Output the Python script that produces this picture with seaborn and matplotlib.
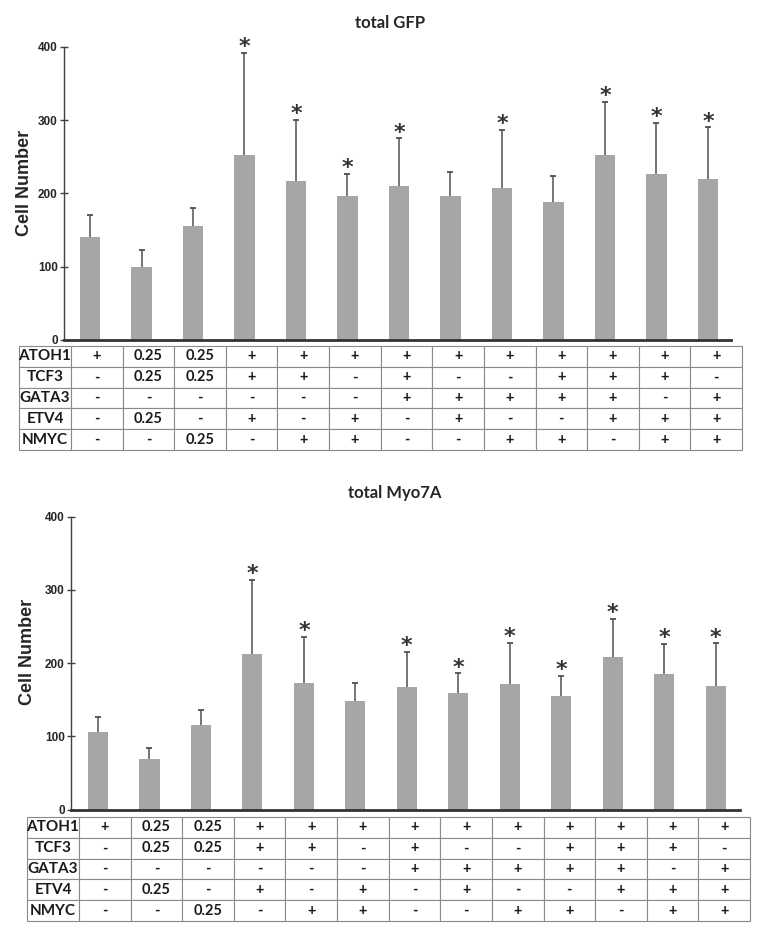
import numpy as np
import matplotlib
matplotlib.use("Agg")
import matplotlib.pyplot as plt
import seaborn as sns

# conditions (one bar per column of the table)
conditions = [f"c{i + 1}" for i in range(13)]

# total GFP: mean and upper error
gfp_mean = [141, 99, 155, 252, 217, 197, 210, 196, 207, 188, 252, 227, 219]
gfp_err = [30, 24, 25, 140, 83, 29, 65, 33, 80, 35, 73, 69, 71]
gfp_stars = [3, 4, 5, 6, 8, 10, 11, 12]

# total Myo7A: mean and upper error
myo_mean = [106, 69, 115, 212, 173, 149, 167, 159, 171, 155, 209, 185, 169]
myo_err = [20, 15, 21, 102, 63, 24, 48, 27, 57, 28, 52, 41, 58]
myo_stars = [3, 4, 6, 7, 8, 9, 10, 11, 12]

# factor table below each chart
factor_names = ["ATOH1", "TCF3", "GATA3", "ETV4", "NMYC"]
atoh1 = ["+", "0.25", "0.25", "+", "+", "+", "+", "+", "+", "+", "+", "+", "+"]
tcf3 = ["-", "0.25", "0.25", "+", "+", "-", "+", "-", "-", "+", "+", "+", "-"]
gata3 = ["-", "-", "-", "-", "-", "-", "+", "+", "+", "+", "+", "-", "+"]
etv4 = ["-", "0.25", "-", "+", "-", "+", "-", "+", "-", "-", "+", "+", "+"]
nmyc = ["-", "-", "0.25", "-", "+", "+", "-", "-", "+", "+", "-", "+", "+"]

yticks = [0, 100, 200, 300, 400]

sns.set_style("ticks")
plt.rcParams["font.family"] = ["Liberation Sans", "DejaVu Sans"]

W, H = 764, 935
fig = plt.figure(figsize=(W / 100, H / 100), dpi=100)

BAR = "#a6a6a6"
DARK = "#404040"


def px_axes(left, right, top, bottom):
    return fig.add_axes([left / W, 1 - bottom / H, (right - left) / W, (bottom - top) / H])


def draw_chart(ax, mean, err, stars, xlim):
    sns.barplot(x=conditions, y=mean, color=BAR, saturation=1, width=0.39,
                ax=ax, edgecolor="none")
    xs = np.arange(len(mean))
    tops = np.array(mean) + np.array(err)
    # upper error only: stem plus a cap at the top
    ax.vlines(xs, mean, tops, color="#505050", lw=1.1)
    ax.plot(xs, tops, ls="none", marker="_", ms=5, mew=1.3, color="#505050")
    for i in stars:
        ax.annotate("*", (i, tops[i]), xytext=(0, -3), textcoords="offset points",
                    ha="center", va="bottom", fontsize=16, color="#333333",
                    family="DejaVu Sans", fontweight="bold")
    ax.set_xlim(*xlim)
    ax.set_ylim(0, 400)
    ax.set_yticks(yticks)
    ax.set_yticklabels([str(t) for t in yticks], fontsize=8.5, fontweight="bold")
    ax.tick_params(axis="y", direction="inout", length=6, width=1, color=DARK, pad=1.5)
    ax.set_xticks([])
    ax.set_xlabel("")
    ax.set_ylabel("")
    sns.despine(ax=ax)
    ax.spines["left"].set_color(DARK)
    ax.spines["left"].set_linewidth(1)
    ax.spines["bottom"].set_color("#333333")
    ax.spines["bottom"].set_linewidth(2)


def draw_table(ax):
    rows = [atoh1, tcf3, gata3, etv4, nmyc]
    cells = [[name] + row for name, row in zip(factor_names, rows)]
    label_w = 52
    col_w = 51.6
    total = label_w + col_w * 13
    widths = [label_w / total] + [col_w / total] * 13
    tab = ax.table(cellText=cells, colWidths=widths, cellLoc="center", bbox=[0, 0, 1, 1])
    tab.auto_set_font_size(False)
    for (r, c), cell in tab.get_celld().items():
        cell.set_edgecolor("#8a8a8a")
        cell.set_linewidth(0.8)
        cell.get_text().set_fontfamily("Lato")
        cell.get_text().set_fontweight("bold")
        cell.get_text().set_fontsize(11 if c == 0 else 10.5)
        cell.get_text().set_color("#1a1a1a")
    ax.axis("off")


# top chart: total GFP
ax1 = px_axes(64, 731, 46.7, 340)
draw_chart(ax1, gfp_mean, gfp_err, gfp_stars, (-0.505, 12.447))
fig.text(390 / W, 1 - 23 / H, "total GFP", ha="center", va="center",
         fontsize=12, fontweight="bold", family="Lato")
fig.text(25 / W, 1 - 183 / H, "Cell Number", rotation=90, ha="center", va="center",
         fontsize=13, fontweight="bold")
tab1 = px_axes(19, 742, 346, 450)
draw_table(tab1)

# bottom chart: total Myo7A
ax2 = px_axes(71, 740.5, 516.7, 809.7)
draw_chart(ax2, myo_mean, myo_err, myo_stars, (-0.524, 12.48))
fig.text(395 / W, 1 - 493 / H, "total Myo7A", ha="center", va="center",
         fontsize=12, fontweight="bold", family="Lato")
fig.text(27 / W, 1 - 652 / H, "Cell Number", rotation=90, ha="center", va="center",
         fontsize=13, fontweight="bold")
tab2 = px_axes(27, 750, 817, 921)
draw_table(tab2)

fig.savefig("out.png", dpi=100)
